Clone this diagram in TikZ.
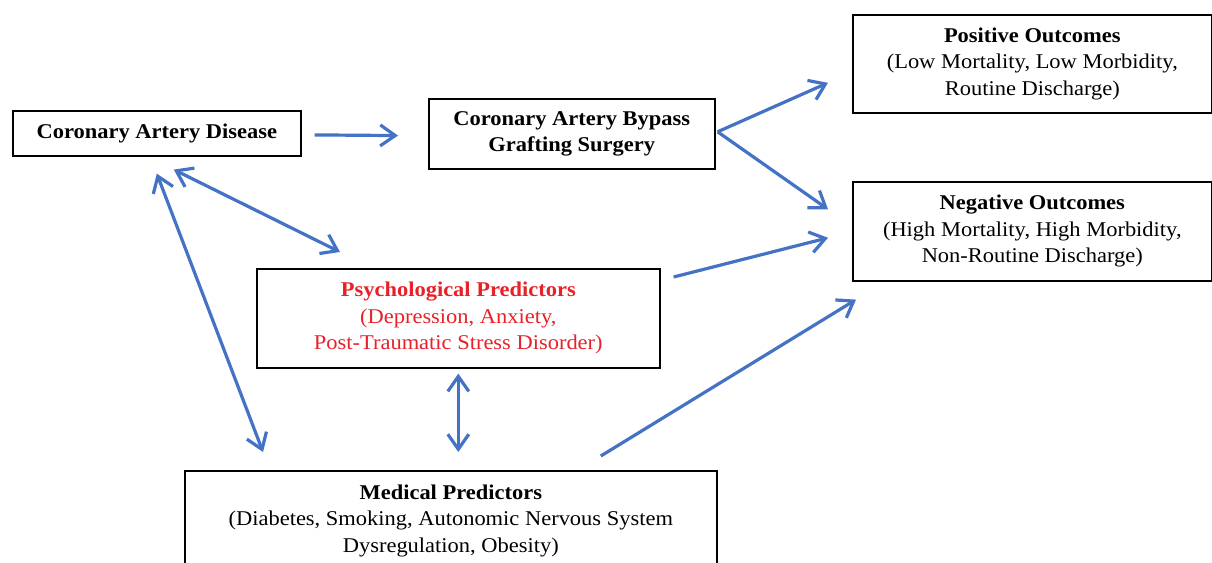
\documentclass[tikz,border=0pt]{standalone}
\usepackage{fontspec}
\setmainfont[FakeStretch=1.07]{Liberation Serif}
\usetikzlibrary{arrows.meta,calc}
\definecolor{arrowblue}{RGB}{68,114,196}
\definecolor{psyred}{RGB}{232,32,40}
\begin{document}
\begin{tikzpicture}[x=1pt,y=-1pt,
  box/.style={draw=black,line width=1.6pt,inner sep=0pt,anchor=north west,
    font=\fontsize{21}{26.5}\selectfont,align=center},
  barb/.tip={Straight Barb[length=15pt,width=21pt,line width=3.2pt]},
  conn/.style={draw=arrowblue,line width=3.2pt,-barb},
  both/.style={draw=arrowblue,line width=3.2pt,barb-barb}]
\useasboundingbox (0,0) rectangle (1212,562);
\node[box,minimum width=288pt,minimum height=45pt] (cad) at (12,110)
  {\textbf{Coronary Artery Disease}};
\node[box,minimum width=286pt,minimum height=70pt] (cabg) at (428,98)
  {\textbf{Coronary Artery Bypass}\\\textbf{Grafting Surgery}};
\node[box,minimum width=359pt,minimum height=98pt] (pos) at (852,14)
  {\textbf{Positive Outcomes}\\(Low Mortality, Low Morbidity,\\Routine Discharge)};
\node[box,minimum width=359pt,minimum height=99pt] (neg) at (852,181)
  {\textbf{Negative Outcomes}\\(High Mortality, High Morbidity,\\Non-Routine Discharge)};
\node[box,minimum width=403pt,minimum height=99pt,text=psyred] (psy) at (256,268)
  {\textbf{Psychological Predictors}\\(Depression, Anxiety,\\Post-Traumatic Stress Disorder)};
\node[box,minimum width=532pt,minimum height=100pt] (med) at (184,470)
  {\textbf{Medical Predictors}\\(Diabetes, Smoking, Autonomic Nervous System\\Dysregulation, Obesity)};
\coordinate (fork) at ($(cabg.east)+(2,-2)$);
\draw[conn,shorten <=13pt,shorten >=30pt] ([yshift=-1.5pt]cad.east) -- ([yshift=-2pt]cabg.west);
\draw[conn] (fork) -- ($(pos.west)+(-24,19)$);
\draw[conn] (fork) -- ($(neg.west)+(-24,-22)$);
\draw[both] ($(cad.south)+(17,13)$) -- ($(psy.north west)+(84,-16)$);
\draw[both] ($(cad.south)+(0,17)$) -- ($(med.north west)+(79,-18)$);
\draw[both] ($(psy.south)+(0,5)$) -- ($(psy.south |- med.north)+(0,-18)$);
\draw[conn] ($(psy.north east)+(13,9)$) -- ($(neg.west)+(-24,6.5)$);
\draw[conn] ($(med.north)+(150,-14)$) -- ($(neg.south west)+(4,18)$);
\end{tikzpicture}
\end{document}
